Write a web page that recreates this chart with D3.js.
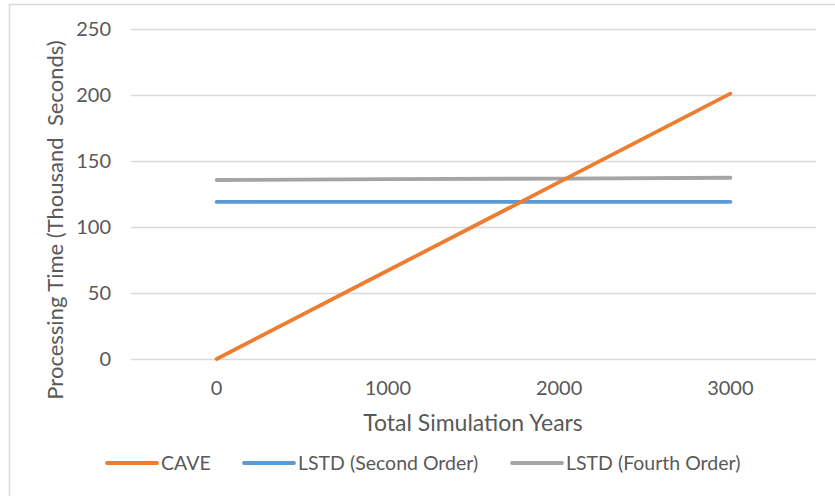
<!DOCTYPE html>
<html>
<head>
<meta charset="utf-8">
<script src="https://cdn.jsdelivr.net/npm/d3@7/dist/d3.min.js"></script>
<style>
  html, body { margin: 0; padding: 0; background: #fff; }
  svg { display: block; }
  text { font-family: Lato, "Open Sans", "Liberation Sans", sans-serif; fill: #595959; }
</style>
</head>
<body>
<svg id="chart" width="835" height="496"></svg>
<script>
const categories = ["0", "1000", "2000", "3000"];
const cave = [0, 67, 134, 201];
const lstdSecond = [119, 119, 119, 119];
const lstdFourth = [135.6, 136.2, 136.7, 137.3];
const yTicks = [0, 50, 100, 150, 200, 250];
const seriesNames = ["CAVE", "LSTD (Second Order)", "LSTD (Fourth Order)"];
const seriesColors = ["#ED7D31", "#5B9BD5", "#A5A5A5"];

const svg = d3.select("#chart");
const W = 835, H = 496;
const plot = { left: 131, right: 816, top: 29, bottom: 359 };

// chart area border
svg.append("rect")
  .attr("x", 9.5).attr("y", 4.5)
  .attr("width", W + 10).attr("height", H + 10)
  .attr("fill", "#fff").attr("stroke", "#D9D9D9").attr("stroke-width", 1.5);

const x = d3.scaleBand().domain(categories).range([plot.left, plot.right]);
const xc = c => x(c) + x.bandwidth() / 2;
const y = d3.scaleLinear().domain([0, 250]).range([plot.bottom, plot.top]);

// Y axis with gridlines
const yAxis = svg.append("g")
  .attr("transform", `translate(${plot.left},0)`)
  .call(d3.axisLeft(y).tickValues(yTicks).tickSize(-(plot.right - plot.left)).tickPadding(20));
yAxis.select(".domain").remove();
yAxis.selectAll(".tick line").attr("stroke", "#D9D9D9").attr("stroke-width", 1.3);
yAxis.selectAll(".tick text")
  .attr("font-size", 20).attr("fill", "#595959")
  .style("font-family", "Lato, 'Open Sans', sans-serif");

// X axis labels
const xAxis = svg.append("g")
  .attr("transform", `translate(0,${plot.bottom})`)
  .call(d3.axisBottom(x).tickSize(0));
xAxis.select(".domain").remove();
xAxis.selectAll(".tick text")
  .attr("y", 36).attr("dy", null)
  .attr("font-size", 20).attr("fill", "#595959")
  .style("font-family", "Lato, 'Open Sans', sans-serif");

// lines
const seriesData = [cave, lstdSecond, lstdFourth];
const line = d3.line().x((d, i) => xc(categories[i])).y(d => y(d));
[2, 1, 0].forEach(k => {
  svg.append("path")
    .datum(seriesData[k])
    .attr("d", line)
    .attr("fill", "none")
    .attr("stroke", seriesColors[k])
    .attr("stroke-width", 3.8)
    .attr("stroke-linecap", "round")
    .attr("stroke-linejoin", "round");
});

// axis titles
svg.append("text")
  .attr("x", 473).attr("y", 431)
  .attr("text-anchor", "middle")
  .attr("font-size", 23)
  .text("Total Simulation Years");

svg.append("text")
  .attr("transform", "translate(63,220) rotate(-90)")
  .attr("text-anchor", "middle")
  .attr("font-size", 22)
  .style("white-space", "pre")
  .text("Processing Time (Thousand  Seconds)");

// legend
const legendX = [107, 244, 512];
seriesNames.forEach((name, k) => {
  const g = svg.append("g").attr("transform", `translate(${legendX[k]},463)`);
  g.append("line")
    .attr("x1", 0).attr("x2", 50).attr("y1", 0).attr("y2", 0)
    .attr("stroke", seriesColors[k]).attr("stroke-width", 3.8)
    .attr("stroke-linecap", "round");
  g.append("text")
    .attr("x", 54).attr("y", 7)
    .attr("font-size", 19.5)
    .text(name);
});
</script>
</body>
</html>
